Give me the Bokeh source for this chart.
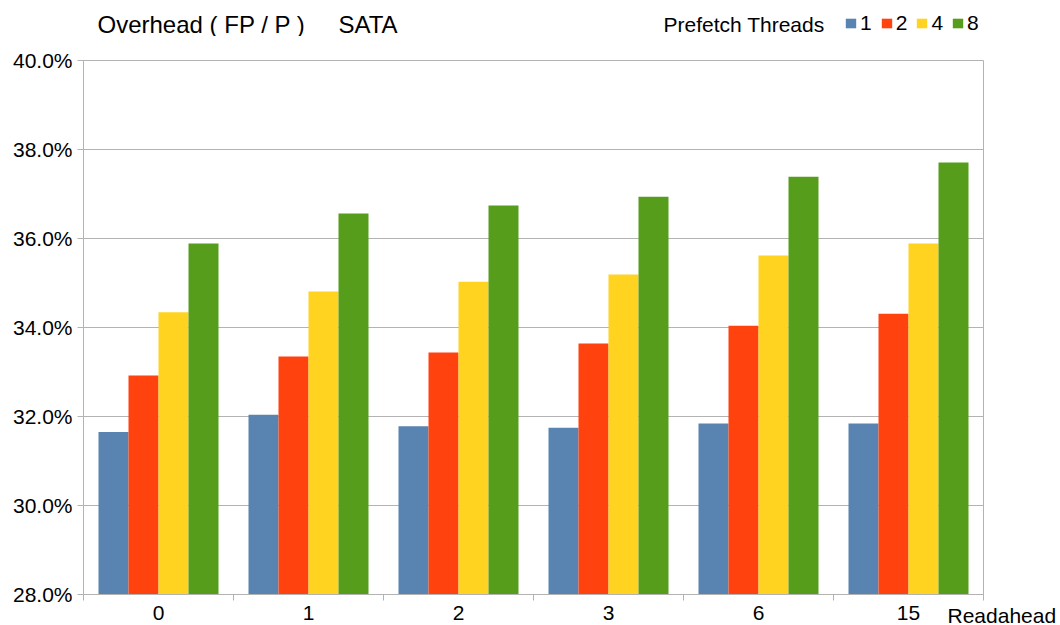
from bokeh.plotting import figure
from bokeh.layouts import column
from bokeh.models import (Range1d, FixedTicker, PrintfTickFormatter, CustomJSTickFormatter,
                          ColumnDataSource, Label, Legend, LegendItem)
from bokeh.transform import dodge
from bokeh.embed import file_html
from bokeh.resources import INLINE

# ---- data ----
readahead = ["0", "1", "2", "3", "6", "15"]
threads = ["1", "2", "4", "8"]
t1 = [31.65, 32.04, 31.78, 31.75, 31.84, 31.84]
t2 = [32.92, 33.35, 33.44, 33.64, 34.04, 34.31]
t4 = [34.34, 34.81, 35.03, 35.19, 35.62, 35.89]
t8 = [35.89, 36.56, 36.74, 36.94, 37.39, 37.71]
y_ticks = [28, 30, 32, 34, 36, 38, 40]

colors = ["#5983b0", "#ff420e", "#ffd320", "#579d1c"]
FONT = "Liberation Sans"
GRID = "#b3b3b3"
W, H, HEAD = 1060, 625, 36
LEFT, RIGHT, TOP, BOTTOM = 83, 77, 60, 31

centers = [i + 0.5 for i in range(len(readahead))]
src = ColumnDataSource(dict(x=centers, t1=t1, t2=t2, t4=t4, t8=t8))
cols = ["t1", "t2", "t4", "t8"]

# ---------------- header (title + legend) ----------------
hdr = figure(width=W, height=HEAD, output_backend="svg", toolbar_location=None,
             x_range=Range1d(0, W - LEFT - RIGHT), y_range=Range1d(0, HEAD),
             x_axis_type=None, y_axis_type=None,
             min_border_left=LEFT, min_border_right=RIGHT, min_border_top=0, min_border_bottom=0)
hdr.outline_line_color = None
hdr.background_fill_color = "white"
hdr.border_fill_color = "white"
hdr.grid.visible = False

# hidden proxies carrying the series colours for the legend keys
key_renderers = [hdr.vbar(x="x", top=c, width=0.2, source=src, fill_color=col,
                          line_color=None, visible=False) for c, col in zip(cols, colors)]
legend = Legend(items=[LegendItem(label=t, renderers=[r]) for t, r in zip(threads, key_renderers)],
                orientation="horizontal", location=(844 - LEFT, 1),
                padding=0, margin=0, spacing=8, label_standoff=3,
                glyph_width=13, glyph_height=12, label_height=12, label_width=0,
                border_line_color=None, background_fill_alpha=0,
                label_text_font=FONT, label_text_font_size="21px",
                label_text_color="#000000")
hdr.add_layout(legend)
hdr.add_layout(Label(x=663 - LEFT, y=HEAD - 24, x_units="screen", y_units="screen",
                     text="Prefetch Threads", text_font=FONT, text_font_size="21px",
                     text_baseline="middle", text_align="left", text_color="#000000"))
hdr.add_layout(Label(x=97 - LEFT, y=HEAD - 23.5, x_units="screen", y_units="screen",
                     text="Overhead ( FP / P )", text_font=FONT, text_font_size="24px",
                     text_baseline="middle", text_align="left", text_color="#000000"))
hdr.add_layout(Label(x=338 - LEFT, y=HEAD - 23.5, x_units="screen", y_units="screen",
                     text="SATA", text_font=FONT, text_font_size="24px",
                     text_baseline="middle", text_align="left", text_color="#000000"))

# ---------------- main chart ----------------
p = figure(width=W, height=H - HEAD, output_backend="svg", toolbar_location=None,
           x_range=Range1d(0, len(readahead)), y_range=Range1d(y_ticks[0], y_ticks[-1]),
           min_border_left=LEFT, min_border_right=RIGHT, min_border_top=TOP - HEAD,
           min_border_bottom=BOTTOM)
p.background_fill_color = "white"
p.border_fill_color = "white"
p.outline_line_color = GRID
p.outline_line_width = 1

offsets = [-0.3, -0.1, 0.1, 0.3]
for c, off, col in zip(cols, offsets, colors):
    p.vbar(x=dodge("x", off, range=p.x_range), top=c, bottom=0, width=0.2,
           source=src, fill_color=col, line_color=None)

# y axis
p.yaxis.ticker = FixedTicker(ticks=y_ticks)
p.yaxis.formatter = PrintfTickFormatter(format="%.1f%%")
p.yaxis.major_label_text_font = FONT
p.yaxis.major_label_text_font_size = "21px"
p.yaxis.major_label_text_color = "#000000"
p.yaxis.axis_line_color = GRID
p.yaxis.major_tick_line_color = GRID
p.yaxis.major_tick_out = 6
p.yaxis.major_tick_in = 0
p.yaxis.minor_tick_line_color = None
p.yaxis.major_label_standoff = 5

# x axis: labels at group centres, tick marks at group boundaries
p.xaxis.ticker = FixedTicker(ticks=centers, minor_ticks=list(range(len(readahead) + 1)))
p.xaxis.formatter = CustomJSTickFormatter(args=dict(labels=readahead),
                                          code="return labels[Math.floor(tick)]")
p.xaxis.major_label_text_font = FONT
p.xaxis.major_label_text_font_size = "21px"
p.xaxis.major_label_text_color = "#000000"
p.xaxis.axis_line_color = GRID
p.xaxis.major_tick_line_color = None
p.xaxis.major_tick_out = 0
p.xaxis.major_tick_in = 0
p.xaxis.minor_tick_line_color = GRID
p.xaxis.minor_tick_out = 6
p.xaxis.minor_tick_in = 0
p.xaxis.major_label_standoff = 5

p.xgrid.grid_line_color = None
p.ygrid.grid_line_color = GRID
p.ygrid.grid_line_width = 1

# axis title at the right end of the category axis (placed in a side panel so it is not clipped)
p.add_layout(Label(x=len(readahead), y=y_ticks[0], x_offset=-36, y_offset=-21,
                   text="Readahead", text_font=FONT, text_font_size="21px",
                   text_baseline="middle", text_align="left", text_color="#000000"), "above")

open("out.html", "w").write(file_html(column(hdr, p, spacing=0), INLINE))
